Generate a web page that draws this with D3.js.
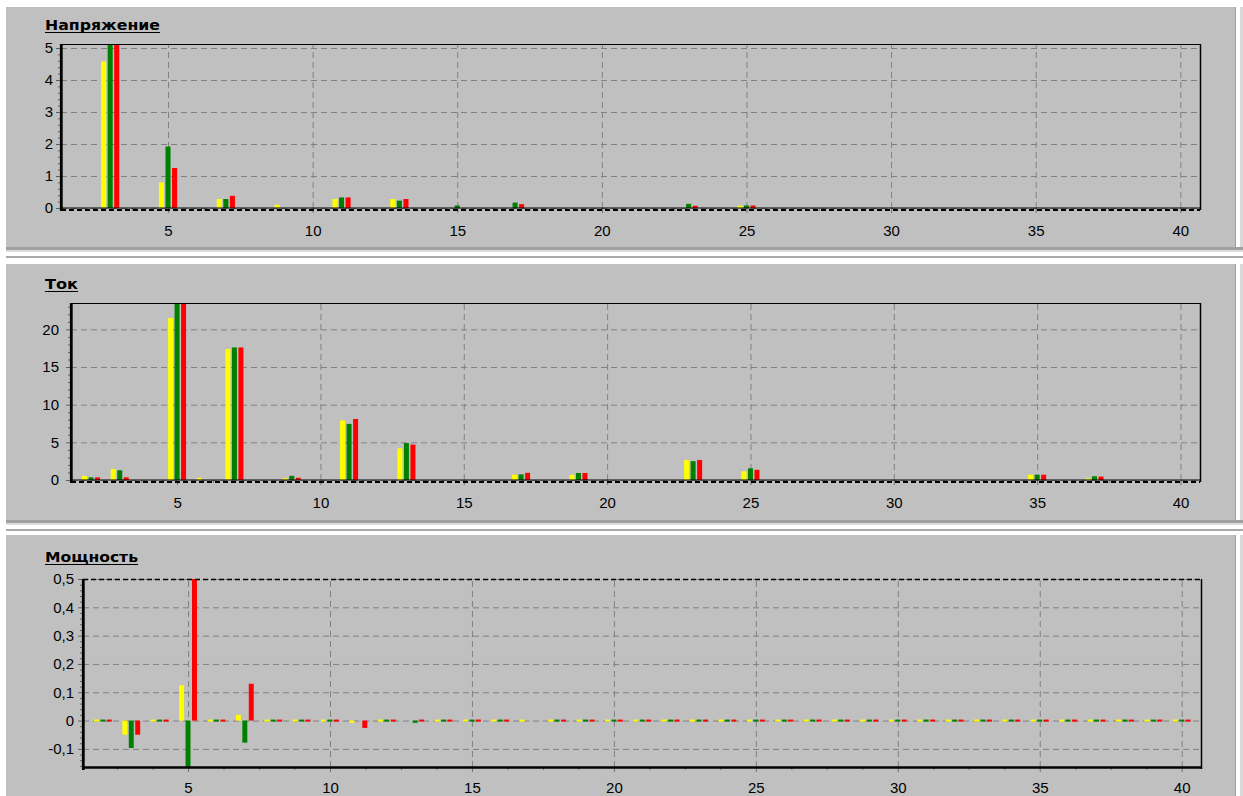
<!DOCTYPE html>
<html>
<head>
<meta charset="utf-8">
<script src="https://cdn.jsdelivr.net/npm/d3@7"></script>
<style>
  html, body { margin: 0; padding: 0; background: #fff; }
  svg { display: block; font-family: "Liberation Sans", Arial, sans-serif; }
</style>
</head>
<body>
<div id="chart"></div>
<script>
// номера гармоник 2..40
const harmonics = [2, 3, 4, 5, 6, 7, 8, 9, 10, 11,
  12, 13, 14, 15, 16, 17, 18, 19, 20, 21,
  22, 23, 24, 25, 26, 27, 28, 29, 30, 31,
  32, 33, 34, 35, 36, 37, 38, 39, 40];

const phases = ["A", "B", "C"];
const phaseColors = ["#ffff00", "#008000", "#ff0000"];

// Напряжение, по фазам (h2..h40)
const voltageA = [0, 4.58, 0, 0.8, 0, 0.28, 0, 0.1, 0, 0.28,
  0, 0.28, 0, 0, 0, 0, 0, 0, 0, 0,
  0, 0, 0, 0.07, 0, 0, 0, 0, 0, 0,
  0, 0, 0, 0, 0, 0, 0, 0, 0];
const voltageB = [0, 5.6, 0, 1.92, 0, 0.28, 0, 0, 0, 0.33,
  0, 0.23, 0, 0.08, 0, 0.17, 0, 0, 0, 0,
  0, 0.13, 0, 0.08, 0, 0, 0, 0, 0, 0,
  0, 0, 0, 0, 0, 0, 0, 0, 0];
const voltageC = [0, 5.5, 0, 1.25, 0, 0.38, 0, 0, 0, 0.33,
  0, 0.28, 0, 0, 0, 0.12, 0, 0, 0, 0,
  0, 0.07, 0, 0.08, 0, 0, 0, 0, 0, 0,
  0, 0, 0, 0, 0, 0, 0, 0, 0];

// Ток
const currentA = [0.53, 1.46, 0, 21.5, 0.3, 17.4, 0, 0.25, 0, 7.9,
  0, 4.2, 0, 0, 0, 0.7, 0, 0.7, 0, 0,
  0, 2.66, 0, 1.15, 0, 0, 0, 0, 0, 0,
  0, 0, 0, 0.7, 0, 0.2, 0, 0, 0];
const currentB = [0.35, 1.29, 0, 24.5, 0, 17.6, 0, 0.55, 0, 7.45,
  0, 4.9, 0, 0, 0, 0.75, 0, 0.93, 0, 0,
  0, 2.5, 0, 1.55, 0, 0, 0, 0, 0, 0,
  0, 0, 0, 0.7, 0, 0.5, 0, 0, 0];
const currentC = [0.35, 0.35, 0, 24.5, 0, 17.6, 0, 0.3, 0, 8.1,
  0, 4.7, 0, 0, 0, 0.95, 0, 0.93, 0, 0,
  0, 2.66, 0, 1.35, 0, 0, 0, 0, 0, 0,
  0, 0, 0, 0.7, 0, 0.45, 0, 0, 0];

// Мощность (null — столбик не виден)
const powerA = [0, -0.05, 0, 0.125, 0, 0.02, 0, 0, 0, -0.008,
  0, null, 0, 0, 0, 0, 0, 0, 0, 0,
  0, 0, 0, 0, 0, 0, 0, 0, 0, 0,
  0, 0, 0, 0, 0, 0, 0, 0, 0];
const powerB = [0, -0.097, 0, -0.18, 0, -0.078, 0, 0, 0, null,
  0, -0.008, 0, 0, 0, null, 0, 0, 0, 0,
  0, 0, 0, 0, 0, 0, 0, 0, 0, 0,
  0, 0, 0, 0, 0, 0, 0, 0, 0];
const powerC = [0, -0.05, 0, 0.52, 0, 0.13, 0, 0, 0, -0.026,
  0, 0, 0, 0, 0, null, 0, 0, 0, 0,
  0, 0, 0, 0, 0, 0, 0, 0, 0, 0,
  0, 0, 0, 0, 0, 0, 0, 0, 0];

// подписи осей
const xTicks = [5, 10, 15, 20, 25, 30, 35, 40];
const voltageTicks = [0, 1, 2, 3, 4, 5];
const currentTicks = [0, 5, 10, 15, 20];
const powerTicks = [-0.1, 0, 0.1, 0.2, 0.3, 0.4, 0.5];

const W = 1243, H = 796;
const ru = d3.formatLocale({ decimal: ",", thousands: " ", grouping: [3], currency: ["", " р."], minus: "-" });
const fmt = (d) => ru.format("~g")(d);

const svg = d3.select("#chart").append("svg")
  .attr("width", W).attr("height", H);

svg.append("rect").attr("width", W).attr("height", H).attr("fill", "#fff");

// рамки панелей (как в окне программы)
const frames = [
  { y0: 7, y1: 247 },
  { y0: 264, y1: 520 },
  { y0: 535, y1: 796 }
];
frames.forEach((f, i) => {
  svg.append("rect").attr("x", 6).attr("y", f.y0).attr("width", 1229).attr("height", f.y1 - f.y0).attr("fill", "#c0c0c0");
  svg.append("line").attr("x1", 1235.5).attr("x2", 1235.5).attr("y1", f.y0).attr("y2", f.y1).attr("stroke", "#a0a0a0");
  svg.append("rect").attr("x", 1240).attr("y", f.y0).attr("width", 3).attr("height", f.y1 - f.y0).attr("fill", "#d8d8d8");
  if (i < 2) {
    svg.append("rect").attr("x", 6).attr("y", f.y1).attr("width", 1237).attr("height", 3).attr("fill", "#a0a0a0");
    svg.append("rect").attr("x", 6).attr("y", f.y1 + 3).attr("width", 1237).attr("height", 2).attr("fill", "#dcdcdc");
    svg.append("rect").attr("x", 6).attr("y", f.y1 + 9).attr("width", 1237).attr("height", 2).attr("fill", "#aaaaaa");
  }
});

const panels = [
  { title: "Напряжение", titleW: 115, titleY: 30, left: 61, right: 1200, top: 44, bottom: 208,
    yDomain: [0, 5.125], ticks: voltageTicks, minorStep: 0.2, series: [voltageA, voltageB, voltageC],
    labelGap: 3, xLabelPad: 12, zeroDash: false, topDashed: false, axisAtZero: true },
  { title: "Ток", titleW: 33, titleY: 289, left: 71, right: 1200, top: 303, bottom: 480,
    yDomain: [0, 23.5], ticks: currentTicks, minorStep: 1, series: [currentA, currentB, currentC],
    labelGap: 7, xLabelPad: 12, zeroDash: false, topDashed: false, axisAtZero: true },
  { title: "Мощность", titleW: 93, titleY: 562, left: 83, right: 1201, top: 579, bottom: 767,
    yDomain: [-0.164, 0.5], ticks: powerTicks, minorStep: 0.02, series: [powerA, powerB, powerC],
    labelGap: 4, xLabelPad: 10, zeroDash: true, topDashed: true, axisAtZero: false }
];

panels.forEach((p, pi) => {
  const g = svg.append("g");
  const w = p.right - p.left, h = p.bottom - p.top;

  const x = d3.scaleLinear().domain([1.3, 40.68]).range([p.left, p.right]);
  const y = d3.scaleLinear().domain(p.yDomain).range([p.bottom, p.top]);
  const unit = x(2) - x(1);
  const sub = d3.scaleBand().domain(phases).range([-0.34 * unit, 0.34 * unit])
    .paddingInner(0.23).paddingOuter(0.115);

  // заголовок
  const t = g.append("text")
    .attr("x", 45).attr("y", p.titleY)
    .attr("font-family", "'DejaVu Sans', sans-serif")
    .attr("font-weight", "bold").attr("font-size", 14)
    .attr("textLength", p.titleW).attr("lengthAdjust", "spacingAndGlyphs")
    .attr("fill", "#000").text(p.title);
  g.append("line").attr("x1", 45).attr("x2", 45 + p.titleW)
    .attr("y1", p.titleY + 2.5).attr("y2", p.titleY + 2.5)
    .attr("stroke", "#000").attr("stroke-width", 1);

  // сетка
  const gridY = g.append("g").attr("transform", `translate(${p.left},0)`)
    .call(d3.axisLeft(y).tickValues(p.ticks).tickSize(-w).tickFormat(""));
  gridY.select(".domain").remove();
  gridY.selectAll("line").attr("stroke", "#808080").attr("stroke-dasharray", "6,4");

  const gridX = g.append("g").attr("transform", `translate(0,${p.bottom})`)
    .call(d3.axisBottom(x).tickValues(xTicks).tickSize(-h).tickFormat(""));
  gridX.select(".domain").remove();
  gridX.selectAll("line").attr("stroke", "#808080").attr("stroke-dasharray", "6,4");

  // столбики
  const clipId = "clip" + pi;
  g.append("clipPath").attr("id", clipId).append("rect")
    .attr("x", p.left).attr("y", p.top).attr("width", w).attr("height", h);

  const rows = [];
  p.series.forEach((vals, si) => {
    vals.forEach((v, k) => {
      if (v !== null) rows.push({ h: harmonics[k], v, phase: phases[si], color: phaseColors[si] });
    });
  });
  const y0 = y(0);
  g.append("g").attr("clip-path", `url(#${clipId})`)
    .selectAll("rect").data(rows).join("rect")
    .attr("x", (d) => x(d.h) + sub(d.phase))
    .attr("width", sub.bandwidth())
    .attr("y", (d) => {
      const yy = y(d.v);
      if (p.zeroDash && Math.abs(yy - y0) < 2) return y0 - 1;
      return Math.min(yy, y0);
    })
    .attr("height", (d) => {
      const hh = Math.abs(y(d.v) - y0);
      if (p.zeroDash && hh < 2) return 2;
      return hh;
    })
    .attr("fill", (d) => d.color);

  // оси: подписи и засечки
  const minorY = d3.range(Math.ceil(p.yDomain[0] / p.minorStep) * p.minorStep, p.yDomain[1] + 1e-9, p.minorStep)
    .filter((v) => !p.ticks.some((tv) => Math.abs(tv - v) < 1e-9));
  const yMinor = g.append("g").attr("transform", `translate(${p.left - 1},0)`)
    .call(d3.axisLeft(y).tickValues(minorY).tickSize(2).tickFormat(""));
  yMinor.select(".domain").remove();
  yMinor.selectAll("line").attr("stroke", "#606060");

  const yAxis = g.append("g").attr("transform", `translate(${p.left - 1},0)`)
    .call(d3.axisLeft(y).tickValues(p.ticks).tickSize(4).tickPadding(p.labelGap).tickFormat(fmt));
  yAxis.select(".domain").remove();
  yAxis.selectAll("line").attr("stroke", "#606060");
  yAxis.selectAll("text").attr("font-size", 15).attr("fill", "#000")
    .attr("font-family", "'Liberation Sans', Arial, sans-serif");

  const minorX = [2.5, 3.75, 6.25, 7.5, 8.75, 11.25, 12.5, 13.75, 16.25, 17.5, 18.75,
    21.25, 22.5, 23.75, 26.25, 27.5, 28.75, 31.25, 32.5, 33.75, 36.25, 37.5, 38.75];
  const xMinor = g.append("g").attr("transform", `translate(0,${p.bottom})`)
    .call(d3.axisBottom(x).tickValues(minorX).tickSize(3).tickFormat(""));
  xMinor.select(".domain").remove();
  xMinor.selectAll("line").attr("stroke", "#707070");

  const xAxis = g.append("g").attr("transform", `translate(0,${p.bottom})`)
    .call(d3.axisBottom(x).tickValues(xTicks).tickSize(5).tickPadding(p.xLabelPad).tickFormat(fmt));
  xAxis.select(".domain").remove();
  xAxis.selectAll("line").attr("stroke", "#707070");
  xAxis.selectAll("text").attr("font-size", 15).attr("fill", "#000")
    .attr("font-family", "'Liberation Sans', Arial, sans-serif");

  // рамка графика
  g.append("line").attr("x1", p.left).attr("x2", p.right).attr("y1", p.top + 0.5).attr("y2", p.top + 0.5)
    .attr("stroke", "#000").attr("stroke-width", p.topDashed ? 1.5 : 1)
    .attr("stroke-dasharray", p.topDashed ? "5,3" : null);
  g.append("line").attr("x1", p.right + 0.5).attr("x2", p.right + 0.5).attr("y1", p.top).attr("y2", p.bottom + 2)
    .attr("stroke", "#000").attr("stroke-width", 1.5);
  if (p.axisAtZero) {
    g.append("line").attr("x1", p.left).attr("x2", p.right).attr("y1", p.bottom).attr("y2", p.bottom)
      .attr("stroke", "#000").attr("stroke-width", 1.2);
    g.append("line").attr("x1", p.left).attr("x2", p.right).attr("y1", p.bottom + 2).attr("y2", p.bottom + 2)
      .attr("stroke", "#000").attr("stroke-width", 2).attr("stroke-dasharray", "5,3");
  } else {
    g.append("line").attr("x1", p.left).attr("x2", p.right + 1).attr("y1", p.bottom + 0.5).attr("y2", p.bottom + 0.5)
      .attr("stroke", "#000").attr("stroke-width", 2.5);
  }
  g.append("line").attr("x1", p.left + 0.3).attr("x2", p.left + 0.3).attr("y1", p.top).attr("y2", p.bottom + 3)
    .attr("stroke", "#000").attr("stroke-width", 2.8);
});
</script>
</body>
</html>
